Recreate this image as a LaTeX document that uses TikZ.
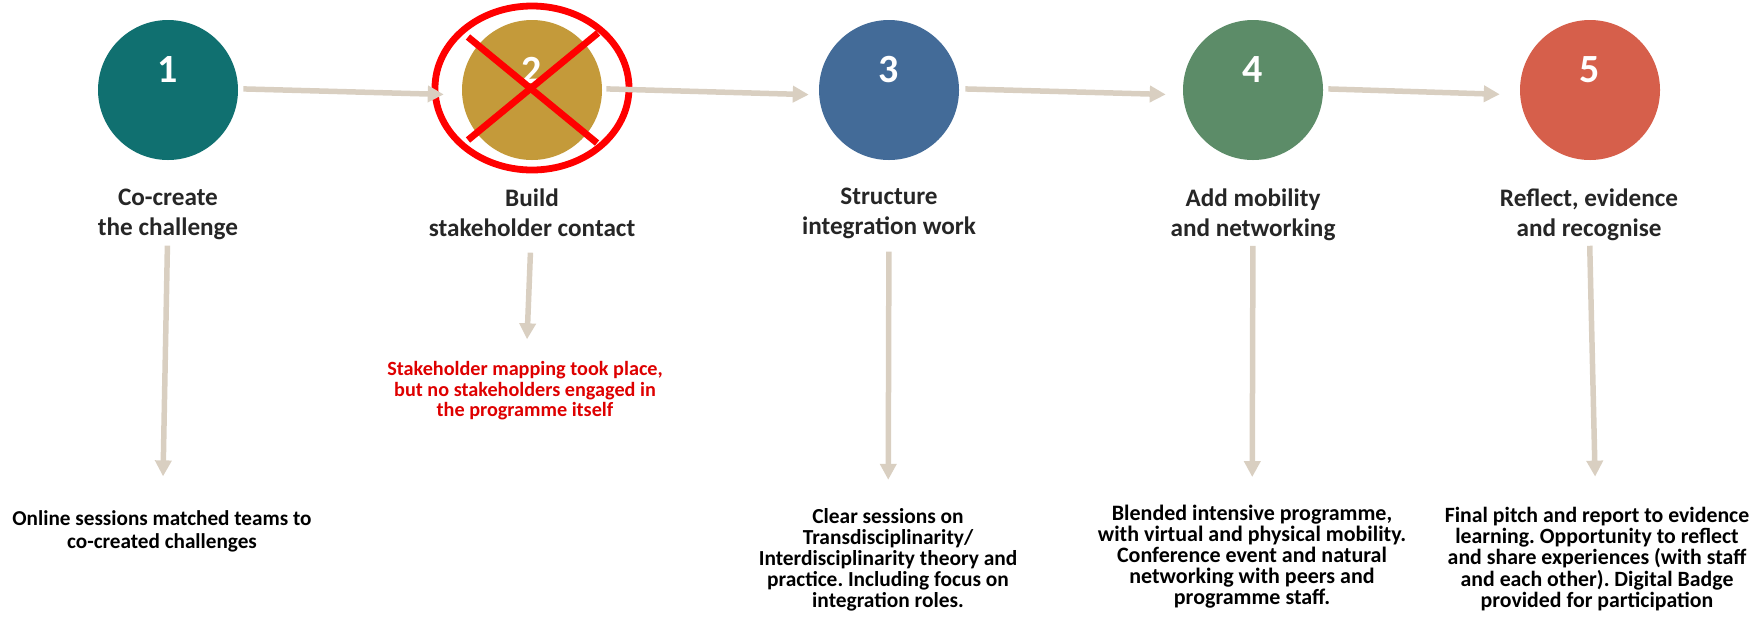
\documentclass[tikz,border=0pt]{standalone}
\usepackage{fontspec}
\setmainfont{Carlito}
\usepackage{tikz}
\usetikzlibrary{positioning,arrows.meta}

\definecolor{stepteal}{RGB}{16,112,112}
\definecolor{stepgold}{RGB}{196,154,58}
\definecolor{stepblue}{RGB}{67,107,152}
\definecolor{stepgreen}{RGB}{92,140,104}
\definecolor{stepcoral}{RGB}{214,95,75}
\definecolor{flowbeige}{RGB}{217,207,193}
\definecolor{titlegray}{RGB}{38,38,38}
\definecolor{notered}{RGB}{222,0,0}

\tikzset{
  stage/.style={circle,minimum size=70pt,inner sep=0pt},
  stepnum/.style={text=white,font=\bfseries\fontsize{20}{24}\selectfont,inner sep=0pt},
  steptitle/.style={align=center,text=titlegray,inner sep=0pt,anchor=north,
    font=\bfseries\fontsize{12.6}{15}\selectfont},
  info/.style 2 args={align=center,inner sep=0pt,font=\bfseries\fontsize{#1}{#2}\selectfont},
  flow/.style={draw=flowbeige,line width=2.75pt,
    -{Triangle[width=8pt,length=8pt]}},
  cross/.style={draw=red,line width=3.4pt},
}

\begin{document}
\frenchspacing
\begin{tikzpicture}[x=0.5pt,y=-0.5pt]

\useasboundingbox (0,0) rectangle (1764,622);

% the five stages
\node[stage,fill=stepteal]  (c1) at (168,90)  {};
\node[stage,fill=stepgold]  (c2) at (532,90)  {};
\node[stage,fill=stepblue]  (c3) at (889,90)  {};
\node[stage,fill=stepgreen] (c4) at (1253,90) {};
\node[stage,fill=stepcoral] (c5) at (1590,90) {};

\node[stepnum] (n1) at ([yshift=10pt]c1.center) {1};
\node[stepnum] (n2) at ([yshift=10pt]c2.center) {2};
\node[stepnum] (n3) at ([yshift=10pt]c3.center) {3};
\node[stepnum] (n4) at ([yshift=10pt]c4.center) {4};
\node[stepnum] (n5) at ([yshift=10pt]c5.center) {5};

% stage 2 is crossed out
\draw[cross] ([yshift=1pt]c2.center) ellipse [x radius=97, y radius=82];
\draw[cross] (468,37) -- (597,143);
\draw[cross] (598,33) -- (468,140);

\node[steptitle] (t1) at (168,189)  {Co-create\\the challenge};
\node[steptitle] (t2) at (532,188)  {Build\\stakeholder contact};
\node[steptitle] (t3) at (889,188)  {Structure\\integration work};
\node[steptitle] (t4) at (1253,188) {Add mobility\\and networking};
\node[steptitle] (t5) at (1589,188) {Reflect, evidence\\and recognise};

\node[info={10.6}{11.5}] (d1) at (162,531) {Online sessions matched teams to\\co-created challenges};
\node[info={10.1}{10.25},text=notered] (d2) at (525,391) {Stakeholder mapping took place,\\but no stakeholders engaged in\\the programme itself};
\node[info={10.7}{10.5}] (d3) at (888,560) {Clear sessions on\\Transdisciplinarity/\\Interdisciplinarity theory and\\practice. Including focus on\\integration roles.};
\node[info={11}{10.5}] (d4) at (1252,557) {Blended intensive programme,\\with virtual and physical mobility.\\Conference event and natural\\networking with peers and\\programme staff.};
\node[info={10.9}{9.25}] (d5) at (1597,559) {Final pitch and report to evidence\\learning. Opportunity to reflect\\and share experiences (with staff\\and each other). Digital Badge\\provided for participation};

% connectors
\draw[flow,shorten <=2.5pt,shorten >=9pt]  (c1.1) -- (c2.184);
\draw[flow,shorten <=2pt,shorten >=5pt]    (c2.1) -- (c3.184);
\draw[flow,shorten <=3pt,shorten >=8.5pt]  (c3.1) -- (c4.184);
\draw[flow,shorten <=2.5pt,shorten >=10pt] (c4.1) -- (c5.184);

\draw[flow,shorten <=2.5pt,shorten >=16.75pt] (t1) -- (d1);
\draw[flow,shorten <=8pt,shorten >=11pt]      (t2) -- (d2);
\draw[flow,shorten <=6pt,shorten >=14.25pt]   (t3) -- (d3);
\draw[flow,shorten <=2.5pt,shorten >=14pt]    (t4) -- (d4);
\draw[flow,shorten <=2.5pt,shorten >=15pt]    (t5) -- (d5);

\end{tikzpicture}
\end{document}
